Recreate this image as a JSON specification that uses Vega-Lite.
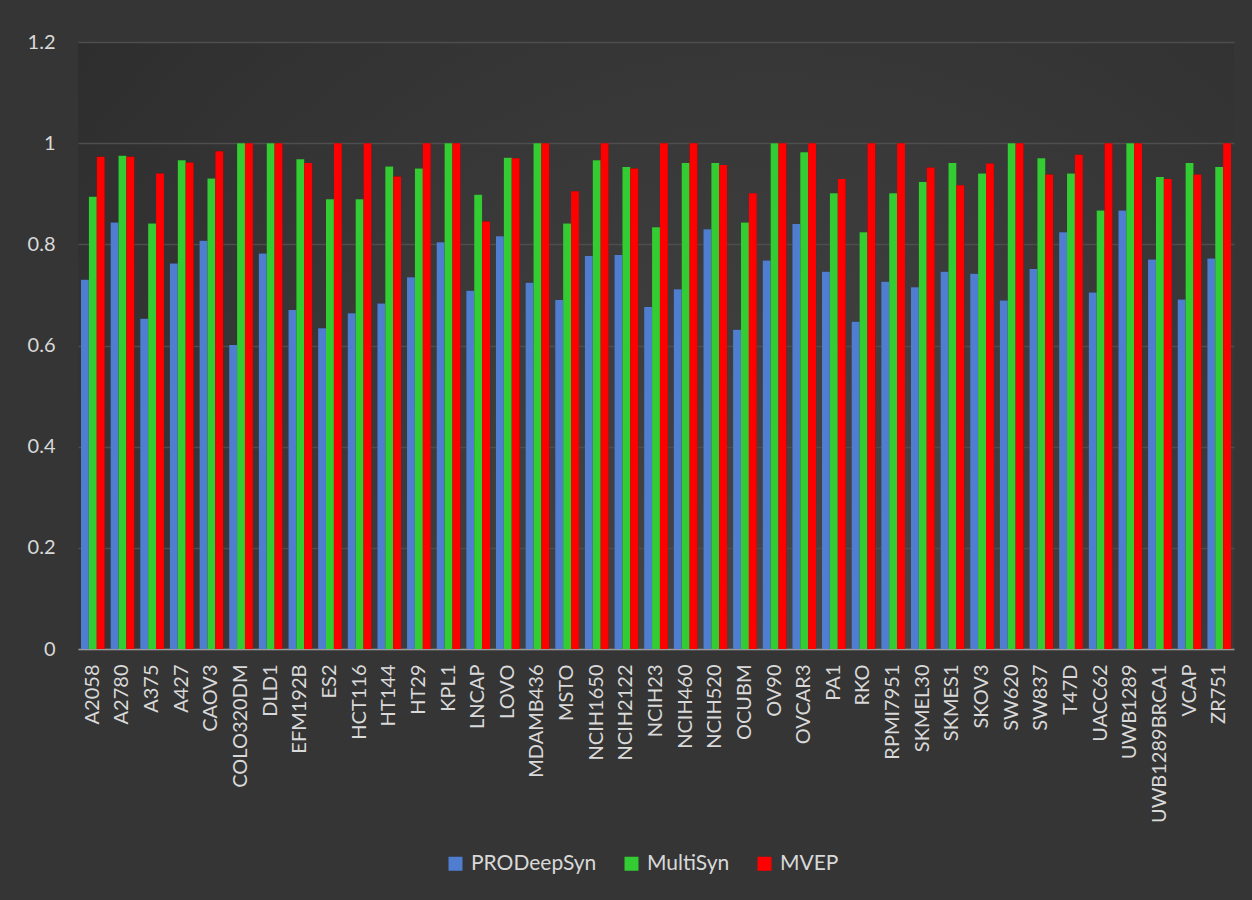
{
  "$schema": "https://vega.github.io/schema/vega-lite/v6.json",
  "width": 1156,
  "height": 607,
  "autosize": {"type": "none"},
  "padding": {"left": 78, "top": 42, "right": 18, "bottom": 251},
  "background": "#353535",
  "data": {
    "values": [
      {"cell": "A2058", "model": "PRODeepSyn", "auc": 0.730}, {"cell": "A2058", "model": "MultiSyn", "auc": 0.894}, {"cell": "A2058", "model": "MVEP", "auc": 0.973},
      {"cell": "A2780", "model": "PRODeepSyn", "auc": 0.843}, {"cell": "A2780", "model": "MultiSyn", "auc": 0.975}, {"cell": "A2780", "model": "MVEP", "auc": 0.973},
      {"cell": "A375", "model": "PRODeepSyn", "auc": 0.653}, {"cell": "A375", "model": "MultiSyn", "auc": 0.841}, {"cell": "A375", "model": "MVEP", "auc": 0.940},
      {"cell": "A427", "model": "PRODeepSyn", "auc": 0.762}, {"cell": "A427", "model": "MultiSyn", "auc": 0.966}, {"cell": "A427", "model": "MVEP", "auc": 0.962},
      {"cell": "CAOV3", "model": "PRODeepSyn", "auc": 0.807}, {"cell": "CAOV3", "model": "MultiSyn", "auc": 0.930}, {"cell": "CAOV3", "model": "MVEP", "auc": 0.984},
      {"cell": "COLO320DM", "model": "PRODeepSyn", "auc": 0.601}, {"cell": "COLO320DM", "model": "MultiSyn", "auc": 1.0}, {"cell": "COLO320DM", "model": "MVEP", "auc": 1.0},
      {"cell": "DLD1", "model": "PRODeepSyn", "auc": 0.782}, {"cell": "DLD1", "model": "MultiSyn", "auc": 1.0}, {"cell": "DLD1", "model": "MVEP", "auc": 1.0},
      {"cell": "EFM192B", "model": "PRODeepSyn", "auc": 0.670}, {"cell": "EFM192B", "model": "MultiSyn", "auc": 0.968}, {"cell": "EFM192B", "model": "MVEP", "auc": 0.961},
      {"cell": "ES2", "model": "PRODeepSyn", "auc": 0.634}, {"cell": "ES2", "model": "MultiSyn", "auc": 0.889}, {"cell": "ES2", "model": "MVEP", "auc": 1.0},
      {"cell": "HCT116", "model": "PRODeepSyn", "auc": 0.664}, {"cell": "HCT116", "model": "MultiSyn", "auc": 0.889}, {"cell": "HCT116", "model": "MVEP", "auc": 1.0},
      {"cell": "HT144", "model": "PRODeepSyn", "auc": 0.683}, {"cell": "HT144", "model": "MultiSyn", "auc": 0.954}, {"cell": "HT144", "model": "MVEP", "auc": 0.934},
      {"cell": "HT29", "model": "PRODeepSyn", "auc": 0.735}, {"cell": "HT29", "model": "MultiSyn", "auc": 0.950}, {"cell": "HT29", "model": "MVEP", "auc": 1.0},
      {"cell": "KPL1", "model": "PRODeepSyn", "auc": 0.804}, {"cell": "KPL1", "model": "MultiSyn", "auc": 1.0}, {"cell": "KPL1", "model": "MVEP", "auc": 1.0},
      {"cell": "LNCAP", "model": "PRODeepSyn", "auc": 0.708}, {"cell": "LNCAP", "model": "MultiSyn", "auc": 0.898}, {"cell": "LNCAP", "model": "MVEP", "auc": 0.845},
      {"cell": "LOVO", "model": "PRODeepSyn", "auc": 0.816}, {"cell": "LOVO", "model": "MultiSyn", "auc": 0.971}, {"cell": "LOVO", "model": "MVEP", "auc": 0.970},
      {"cell": "MDAMB436", "model": "PRODeepSyn", "auc": 0.724}, {"cell": "MDAMB436", "model": "MultiSyn", "auc": 1.0}, {"cell": "MDAMB436", "model": "MVEP", "auc": 1.0},
      {"cell": "MSTO", "model": "PRODeepSyn", "auc": 0.690}, {"cell": "MSTO", "model": "MultiSyn", "auc": 0.841}, {"cell": "MSTO", "model": "MVEP", "auc": 0.905},
      {"cell": "NCIH1650", "model": "PRODeepSyn", "auc": 0.777}, {"cell": "NCIH1650", "model": "MultiSyn", "auc": 0.966}, {"cell": "NCIH1650", "model": "MVEP", "auc": 1.0},
      {"cell": "NCIH2122", "model": "PRODeepSyn", "auc": 0.779}, {"cell": "NCIH2122", "model": "MultiSyn", "auc": 0.953}, {"cell": "NCIH2122", "model": "MVEP", "auc": 0.950},
      {"cell": "NCIH23", "model": "PRODeepSyn", "auc": 0.676}, {"cell": "NCIH23", "model": "MultiSyn", "auc": 0.834}, {"cell": "NCIH23", "model": "MVEP", "auc": 1.0},
      {"cell": "NCIH460", "model": "PRODeepSyn", "auc": 0.711}, {"cell": "NCIH460", "model": "MultiSyn", "auc": 0.961}, {"cell": "NCIH460", "model": "MVEP", "auc": 1.0},
      {"cell": "NCIH520", "model": "PRODeepSyn", "auc": 0.830}, {"cell": "NCIH520", "model": "MultiSyn", "auc": 0.961}, {"cell": "NCIH520", "model": "MVEP", "auc": 0.957},
      {"cell": "OCUBM", "model": "PRODeepSyn", "auc": 0.631}, {"cell": "OCUBM", "model": "MultiSyn", "auc": 0.843}, {"cell": "OCUBM", "model": "MVEP", "auc": 0.901},
      {"cell": "OV90", "model": "PRODeepSyn", "auc": 0.768}, {"cell": "OV90", "model": "MultiSyn", "auc": 1.0}, {"cell": "OV90", "model": "MVEP", "auc": 1.0},
      {"cell": "OVCAR3", "model": "PRODeepSyn", "auc": 0.840}, {"cell": "OVCAR3", "model": "MultiSyn", "auc": 0.982}, {"cell": "OVCAR3", "model": "MVEP", "auc": 1.0},
      {"cell": "PA1", "model": "PRODeepSyn", "auc": 0.746}, {"cell": "PA1", "model": "MultiSyn", "auc": 0.901}, {"cell": "PA1", "model": "MVEP", "auc": 0.929},
      {"cell": "RKO", "model": "PRODeepSyn", "auc": 0.647}, {"cell": "RKO", "model": "MultiSyn", "auc": 0.824}, {"cell": "RKO", "model": "MVEP", "auc": 1.0},
      {"cell": "RPMI7951", "model": "PRODeepSyn", "auc": 0.726}, {"cell": "RPMI7951", "model": "MultiSyn", "auc": 0.901}, {"cell": "RPMI7951", "model": "MVEP", "auc": 1.0},
      {"cell": "SKMEL30", "model": "PRODeepSyn", "auc": 0.715}, {"cell": "SKMEL30", "model": "MultiSyn", "auc": 0.923}, {"cell": "SKMEL30", "model": "MVEP", "auc": 0.952},
      {"cell": "SKMES1", "model": "PRODeepSyn", "auc": 0.746}, {"cell": "SKMES1", "model": "MultiSyn", "auc": 0.961}, {"cell": "SKMES1", "model": "MVEP", "auc": 0.917},
      {"cell": "SKOV3", "model": "PRODeepSyn", "auc": 0.742}, {"cell": "SKOV3", "model": "MultiSyn", "auc": 0.940}, {"cell": "SKOV3", "model": "MVEP", "auc": 0.960},
      {"cell": "SW620", "model": "PRODeepSyn", "auc": 0.689}, {"cell": "SW620", "model": "MultiSyn", "auc": 1.0}, {"cell": "SW620", "model": "MVEP", "auc": 1.0},
      {"cell": "SW837", "model": "PRODeepSyn", "auc": 0.751}, {"cell": "SW837", "model": "MultiSyn", "auc": 0.970}, {"cell": "SW837", "model": "MVEP", "auc": 0.938},
      {"cell": "T47D", "model": "PRODeepSyn", "auc": 0.824}, {"cell": "T47D", "model": "MultiSyn", "auc": 0.940}, {"cell": "T47D", "model": "MVEP", "auc": 0.977},
      {"cell": "UACC62", "model": "PRODeepSyn", "auc": 0.705}, {"cell": "UACC62", "model": "MultiSyn", "auc": 0.867}, {"cell": "UACC62", "model": "MVEP", "auc": 1.0},
      {"cell": "UWB1289", "model": "PRODeepSyn", "auc": 0.867}, {"cell": "UWB1289", "model": "MultiSyn", "auc": 1.0}, {"cell": "UWB1289", "model": "MVEP", "auc": 1.0},
      {"cell": "UWB1289BRCA1", "model": "PRODeepSyn", "auc": 0.770}, {"cell": "UWB1289BRCA1", "model": "MultiSyn", "auc": 0.933}, {"cell": "UWB1289BRCA1", "model": "MVEP", "auc": 0.929},
      {"cell": "VCAP", "model": "PRODeepSyn", "auc": 0.691}, {"cell": "VCAP", "model": "MultiSyn", "auc": 0.961}, {"cell": "VCAP", "model": "MVEP", "auc": 0.938},
      {"cell": "ZR751", "model": "PRODeepSyn", "auc": 0.772}, {"cell": "ZR751", "model": "MultiSyn", "auc": 0.953}, {"cell": "ZR751", "model": "MVEP", "auc": 1.0}
    ]
  },
  "encoding": {
    "x": {
      "field": "cell",
      "type": "nominal",
      "sort": null,
      "title": null,
      "scale": {"paddingInner": 0.2, "paddingOuter": 0.1},
      "axis": {
        "labelAngle": -90,
        "labelAlign": "right",
        "labelBaseline": "middle",
        "labelPadding": 15,
        "ticks": false,
        "domainColor": "#9a9a9a",
        "domainWidth": 1.5,
        "grid": false
      }
    },
    "y": {
      "field": "auc",
      "type": "quantitative",
      "title": null,
      "scale": {"domain": [0, 1.2], "nice": false},
      "axis": {
        "values": [0, 0.2, 0.4, 0.6, 0.8, 1, 1.2],
        "format": "~g",
        "ticks": false,
        "domain": false,
        "labelPadding": 23,
        "gridColor": "#4e4e4e",
        "gridWidth": 1.3
      }
    },
    "xOffset": {
      "field": "model",
      "type": "nominal",
      "sort": ["PRODeepSyn", "MultiSyn", "MVEP"],
      "scale": {"paddingInner": 0, "paddingOuter": 0}
    }
  },
  "layer": [
    {
      "mark": {"type": "bar", "color": "#000000", "opacity": 0.4, "xOffset": 2.5}
    },
    {
      "mark": {"type": "bar"},
      "encoding": {
        "color": {
          "field": "model",
          "type": "nominal",
          "sort": ["PRODeepSyn", "MultiSyn", "MVEP"],
          "scale": {
            "domain": ["PRODeepSyn", "MultiSyn", "MVEP"],
            "range": ["#4f7dd0", "#33cc33", "#ff0000"]
          },
          "legend": {
            "title": null,
            "orient": "none",
            "legendX": 367,
            "legendY": 811,
            "direction": "horizontal",
            "symbolType": "square",
            "symbolSize": 196,
            "symbolStrokeWidth": 0,
            "symbolOpacity": 1,
            "labelOffset": 5,
            "columnPadding": 24,
            "labelFontSize": 21,
            "labelColor": "#d9d9d9",
            "labelFont": "Lato"
          }
        }
      }
    }
  ],
  "config": {
    "font": "Lato",
    "view": {
      "stroke": null,
      "fill": {
        "gradient": "radial",
        "x1": 0.6, "y1": 0.75, "r1": 0,
        "x2": 0.6, "y2": 0.75, "r2": 0.85,
        "stops": [
          {"offset": 0, "color": "#464646"},
          {"offset": 1, "color": "#2c2c2c"}
        ]
      }
    },
    "axis": {
      "labelColor": "#d9d9d9",
      "labelFont": "Lato",
      "labelFontSize": 20
    }
  }
}
